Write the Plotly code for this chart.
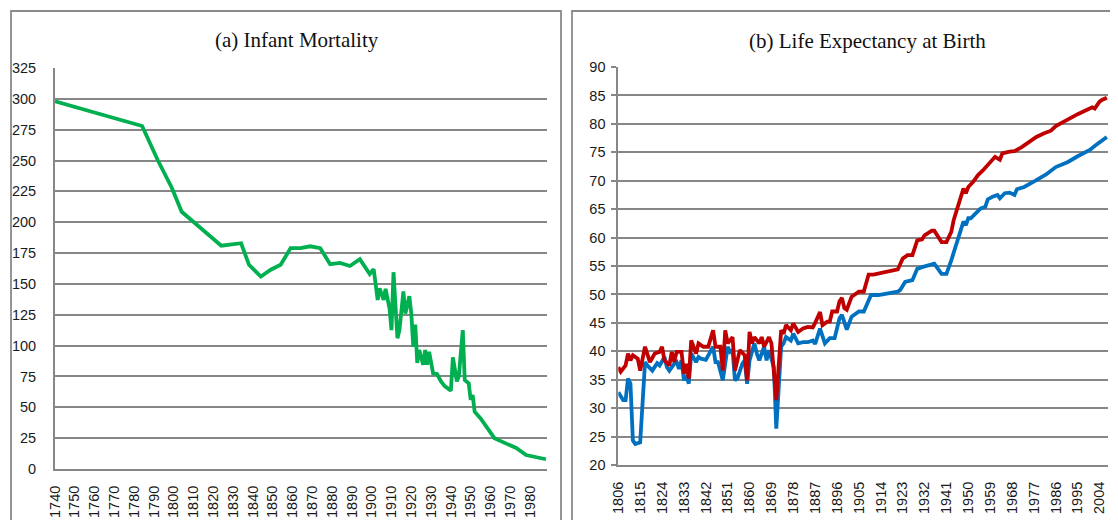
import plotly.graph_objects as go

# (a) infant mortality
imr_years = [1740, 1784, 1792, 1799, 1804, 1824, 1834, 1838, 1844, 1849, 1854, 1859,
             1864, 1869, 1874, 1879, 1884, 1889, 1894, 1899, 1901, 1903, 1904, 1906,
             1907, 1908, 1909, 1910, 1911, 1913, 1914, 1916, 1917, 1919, 1920, 1921,
             1922, 1923, 1924, 1926, 1927, 1928, 1929, 1931, 1933, 1935, 1937, 1940,
             1941, 1943, 1944, 1946, 1947, 1949, 1950, 1951, 1952, 1955, 1958, 1962,
             1966, 1970, 1973, 1978, 1983, 1988]
imr_values = [298, 278, 250, 228, 208.5, 181, 183, 165.5, 156, 161.5, 165.5, 179,
              179, 180.5, 179, 166, 167, 164.5, 170, 158, 162, 137, 146.5, 137,
              146, 138, 130, 112.5, 159.5, 106, 112.5, 144, 126, 140, 126, 99,
              117, 86, 96.5, 84.5, 96.5, 84.5, 95, 77.5, 77, 71, 67, 63.5,
              90.5, 71, 75, 112.5, 72, 69.5, 56, 60, 46.5, 41, 34, 25,
              22, 19.5, 17, 11.3, 9.5, 7.9]
imr_ticks = list(range(1740, 1981, 10))

# (b) life expectancy at birth
blue_years = [1806, 1808, 1809, 1810, 1811, 1812, 1813, 1815, 1817, 1818, 1820, 1821,
              1822, 1823, 1825, 1826, 1827, 1829, 1830, 1831, 1832, 1833, 1834, 1835,
              1836, 1838, 1839, 1840, 1842, 1845, 1846, 1847, 1849, 1851, 1852, 1853,
              1854, 1855, 1857, 1858, 1859, 1860, 1862, 1863, 1864, 1866, 1867, 1868,
              1870, 1871, 1873, 1874, 1875, 1877, 1878, 1880, 1882, 1884, 1886, 1887,
              1889, 1891, 1893, 1895, 1897, 1898, 1900, 1902, 1905, 1907, 1910, 1913,
              1921, 1922, 1924, 1927, 1929, 1931, 1935, 1936, 1939, 1941, 1943, 1946,
              1948, 1949, 1950, 1951, 1953, 1955, 1957, 1958, 1960, 1962, 1963, 1965,
              1967, 1969, 1970, 1973, 1978, 1982, 1986, 1991, 1995, 2000, 2002, 2004,
              2005, 2007]
blue_values = [32.8, 31.4, 31.4, 35.2, 34.3, 24.3, 23.7, 24.0, 38.1, 37.5, 36.6, 37.2,
               37.9, 37.5, 39.0, 37.2, 36.6, 37.8, 38.1, 36.9, 38.4, 34.9, 35.8, 34.3,
               39.6, 38.1, 39.0, 38.7, 38.5, 40.8, 38.1, 38.1, 34.9, 40.8, 39.9, 40.2,
               34.9, 35.2, 37.8, 38.4, 34.3, 38.4, 41.4, 39.6, 38.4, 40.8, 38.4, 40.2,
               37.2, 26.4, 40.8, 41.4, 42.5, 41.9, 43.1, 41.4, 41.6, 41.6, 41.9, 41.3,
               44.0, 41.4, 42.3, 42.3, 45.8, 46.4, 43.8, 46.1, 47.0, 47.0, 49.9, 49.9,
               50.5, 50.8, 52.2, 52.5, 54.5, 54.8, 55.4, 55.4, 53.6, 53.6, 56.0, 60.1,
               62.8, 62.2, 63.4, 63.4, 64.2, 65.1, 65.4, 66.7, 67.2, 67.5, 66.9, 67.8,
               67.9, 67.5, 68.5, 68.9, 70.1, 71.1, 72.4, 73.3, 74.3, 75.4, 76.1, 76.8,
               77.0, 77.7]
red_years = [1806, 1807, 1809, 1810, 1811, 1812, 1814, 1815, 1817, 1818, 1819, 1821,
             1823, 1824, 1825, 1827, 1828, 1829, 1830, 1832, 1833, 1834, 1835, 1836,
             1838, 1839, 1841, 1843, 1845, 1846, 1848, 1849, 1850, 1851, 1853, 1854,
             1855, 1856, 1858, 1859, 1860, 1861, 1862, 1864, 1865, 1866, 1868, 1869,
             1871, 1873, 1874, 1875, 1877, 1878, 1880, 1882, 1884, 1886, 1887, 1889,
             1890, 1892, 1893, 1894, 1896, 1897, 1898, 1899, 1900, 1902, 1905, 1907,
             1909, 1911, 1921, 1923, 1925, 1927, 1929, 1931, 1932, 1935, 1936, 1939,
             1941, 1943, 1944, 1946, 1948, 1949, 1950, 1952, 1954, 1956, 1959, 1961,
             1963, 1964, 1967, 1969, 1972, 1975, 1978, 1981, 1984, 1986, 1989, 1992,
             1995, 1998, 2001, 2002, 2004, 2005, 2007]
red_values = [37.2, 36.4, 37.5, 39.6, 38.4, 39.3, 38.7, 36.6, 40.8, 39.3, 38.1, 39.6,
              39.9, 40.8, 38.4, 37.5, 39.9, 38.1, 39.9, 39.9, 36.1, 37.8, 35.2, 41.9,
              39.6, 41.4, 40.8, 40.8, 43.7, 40.8, 40.8, 36.6, 43.7, 41.4, 42.5, 36.6,
              38.4, 40.2, 39.3, 34.9, 43.4, 41.4, 42.5, 41.4, 42.5, 40.8, 42.5, 41.4,
              31.4, 43.7, 43.1, 44.6, 43.7, 44.9, 43.4, 44.0, 44.3, 44.2, 45.0, 46.9,
              44.6, 45.2, 45.2, 47.0, 47.0, 48.8, 49.4, 47.6, 47.3, 49.6, 50.5, 50.5,
              53.5, 53.5, 54.4, 56.3, 56.9, 56.9, 59.5, 59.7, 60.4, 61.2, 61.2, 59.2,
              59.2, 61.0, 63.1, 66.0, 68.6, 67.8, 68.9, 69.8, 71.0, 71.8, 73.3, 74.2,
              73.7, 74.8, 75.1, 75.2, 75.9, 76.8, 77.7, 78.3, 78.8, 79.6, 80.3, 81.1,
              81.7, 82.3, 82.9, 82.7, 83.9, 84.2, 84.6]
le_ticks = list(range(1806, 2005, 9))

# page body has an 8px margin: keep the figure inside the window
OFF = 8
W, H = 1118 - OFF, 520 - OFF
GRID = "#878787"
TICKFONT = dict(family="Liberation Sans, Arial, sans-serif", size=14.5, color="#1a1a1a")


def px(x):
    return (x - OFF) / W


def py(y):
    return 1 - (y - OFF) / H


fig = go.Figure()
fig.add_trace(go.Scatter(x=imr_years, y=imr_values, mode="lines",
                         line=dict(color="#00B050", width=3.8), xaxis="x", yaxis="y"))
fig.add_trace(go.Scatter(x=blue_years, y=blue_values, mode="lines",
                         line=dict(color="#0070C0", width=3.8), xaxis="x2", yaxis="y2"))
fig.add_trace(go.Scatter(x=red_years, y=red_values, mode="lines",
                         line=dict(color="#C00000", width=3.8), xaxis="x2", yaxis="y2"))


def xax(domain, rng, ticks, anchor):
    return dict(domain=domain, range=rng, tickvals=ticks, ticktext=[str(t) for t in ticks],
                tickangle=-90, showgrid=False, zeroline=False, showline=True,
                linecolor=GRID, linewidth=1.8, ticks="outside", ticklen=9,
                tickcolor="rgba(0,0,0,0)", tickfont=TICKFONT, anchor=anchor,
                automargin=False)


def yax(domain, rng, dtick, anchor, ticklen, tickcolor):
    return dict(domain=domain, range=rng, dtick=dtick, showgrid=True, gridcolor=GRID,
                gridwidth=1.8, zeroline=False, showline=True, linecolor=GRID, linewidth=1.8,
                ticks="outside", ticklen=ticklen, tickcolor=tickcolor, tickwidth=1.8,
                ticklabelstandoff=3, tickfont=TICKFONT, anchor=anchor, automargin=False)


title_font = dict(family="Liberation Serif, Times New Roman, serif", size=21, color="#111")

fig.update_layout(
    template="none",
    width=W, height=H, autosize=False, showlegend=False,
    paper_bgcolor="white", plot_bgcolor="white",
    margin=dict(l=0, r=0, t=0, b=0, pad=0),
    xaxis=xax([px(55), px(547.3)], [1740, 1988.7], imr_ticks, "y"),
    yaxis=yax([py(469), py(68)], [0, 325], 25, "x", 11, "rgba(0,0,0,0)"),
    xaxis2=xax([px(618.3), px(1108.3)], [1806, 2007.6], le_ticks, "y2"),
    yaxis2=yax([py(465), py(67)], [20, 90], 5, "x2", 5, GRID),
    shapes=[
        dict(type="rect", xref="paper", yref="paper", x0=px(11), x1=px(561),
             y0=-0.1, y1=py(11), line=dict(color="#8a8a8a", width=1.8)),
        dict(type="rect", xref="paper", yref="paper", x0=px(572), x1=1.05,
             y0=-0.1, y1=py(11), line=dict(color="#8a8a8a", width=1.8)),
    ],
    annotations=[
        dict(text="(a) Infant Mortality", x=px(297), y=py(40), xref="paper", yref="paper",
             xanchor="center", yanchor="middle", showarrow=False, font=title_font),
        dict(text="(b) Life Expectancy at Birth", x=px(867), y=py(41), xref="paper",
             yref="paper", xanchor="center", yanchor="middle", showarrow=False,
             font=title_font),
    ],
)

fig.write_html("out.html")
